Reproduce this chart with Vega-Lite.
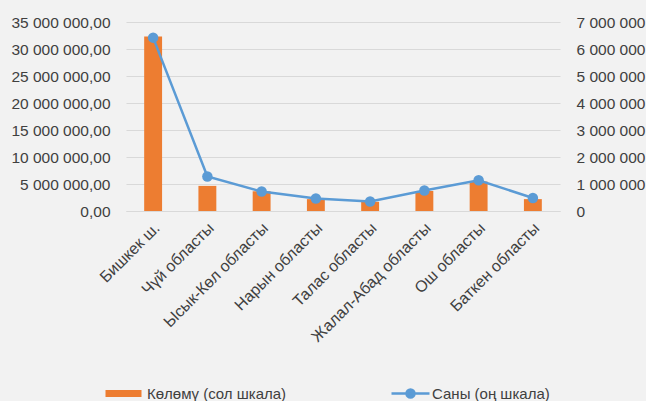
{
  "$schema": "https://vega.github.io/schema/vega-lite/v6.json",
  "width": 434,
  "height": 189,
  "padding": {"left": 10, "top": 15, "right": 15, "bottom": 8},
  "background": "#F2F2F2",
  "data": {
    "values": [
      {"region": "Бишкек ш.", "volume": 32300000, "count": 6420000},
      {"region": "Чүй областы", "volume": 4650000, "count": 1280000},
      {"region": "Ысык-Көл областы", "volume": 3650000, "count": 720000},
      {"region": "Нарын областы", "volume": 2200000, "count": 460000},
      {"region": "Талас областы", "volume": 1700000, "count": 350000},
      {"region": "Жалал-Абад областы", "volume": 3700000, "count": 760000},
      {"region": "Ош областы", "volume": 5450000, "count": 1140000},
      {"region": "Баткен областы", "volume": 2200000, "count": 480000}
    ]
  },
  "encoding": {
    "x": {
      "field": "region",
      "type": "nominal",
      "sort": null,
      "scale": {"paddingInner": 0.67, "paddingOuter": 0.335},
      "axis": {
        "title": null,
        "labelAngle": -45,
        "labelAlign": "right",
        "labelBaseline": "middle",
        "labelPadding": 14,
        "labelOffset": 4,
        "labelFontSize": 16,
        "labelOverlap": false,
        "ticks": false,
        "domainColor": "#D9D9D9",
        "domainWidth": 1
      }
    }
  },
  "layer": [
    {
      "mark": {"type": "bar"},
      "encoding": {
        "y": {
          "field": "volume",
          "type": "quantitative",
          "scale": {"domain": [0, 35000000], "nice": false},
          "axis": {
            "title": null,
            "orient": "left",
            "values": [0, 5000000, 10000000, 15000000, 20000000, 25000000, 30000000, 35000000],
            "format": ",.2f",
            "ticks": false,
            "domain": false,
            "labelPadding": 16,
            "labelOverlap": false,
            "grid": true,
            "gridColor": "#D9D9D9",
            "gridWidth": 1
          }
        },
        "fill": {
          "datum": "Көлөмү (сол шкала)",
          "type": "nominal",
          "scale": {"range": ["#ED7D31"]},
          "legend": {
            "title": null,
            "orient": "none",
            "legendX": -10,
            "legendY": 364,
            "padding": 0,
            "symbolType": "M-3.6,-0.7L3.6,-0.7L3.6,0.7L-3.6,0.7Z",
            "symbolSize": 100,
            "symbolStrokeWidth": 0,
            "labelOffset": 16
          }
        }
      }
    },
    {
      "layer": [
        {
          "mark": {"type": "line", "strokeWidth": 2.5},
          "encoding": {
            "y": {
              "field": "count",
              "type": "quantitative",
              "scale": {"domain": [0, 7000000], "nice": false},
              "axis": {
                "title": null,
                "orient": "right",
                "values": [0, 1000000, 2000000, 3000000, 4000000, 5000000, 6000000, 7000000],
                "format": ",d",
                "ticks": false,
                "domain": false,
                "grid": false,
                "labelOverlap": false,
                "labelPadding": 16
              }
            },
            "stroke": {
              "datum": "Саны (оң шкала)",
              "type": "nominal",
              "scale": {"range": ["#5B9BD5"]},
              "legend": {
                "title": null,
                "orient": "none",
                "legendX": 277,
                "legendY": 364,
                "padding": 0,
                "symbolType": "M-3.8,0L3.8,0M-0.8,0A0.8,0.8,0,1,1,0.8,0A0.8,0.8,0,1,1,-0.8,0Z",
                "symbolSize": 100,
                "symbolStrokeWidth": 2.5,
                "symbolFillColor": "#5B9BD5",
                "labelOffset": 14
              }
            }
          }
        },
        {
          "mark": {"type": "circle", "size": 110, "color": "#5B9BD5", "opacity": 1},
          "encoding": {
            "y": {
              "field": "count",
              "type": "quantitative",
              "scale": {"domain": [0, 7000000], "nice": false},
              "axis": {
                "title": null,
                "orient": "right",
                "values": [0, 1000000, 2000000, 3000000, 4000000, 5000000, 6000000, 7000000],
                "format": ",d",
                "ticks": false,
                "domain": false,
                "grid": false,
                "labelOverlap": false,
                "labelPadding": 16
              }
            }
          }
        }
      ]
    }
  ],
  "resolve": {"scale": {"y": "independent"}},
  "config": {
    "locale": {"number": {"decimal": ",", "thousands": " ", "grouping": [3], "currency": ["", ""]}},
    "view": {"stroke": null},
    "font": "Liberation Sans",
    "axis": {"labelFont": "Liberation Sans", "labelFontSize": 15.5, "labelColor": "#404040"},
    "legend": {"labelFont": "Liberation Sans", "labelFontSize": 15, "labelColor": "#404040"}
  }
}
